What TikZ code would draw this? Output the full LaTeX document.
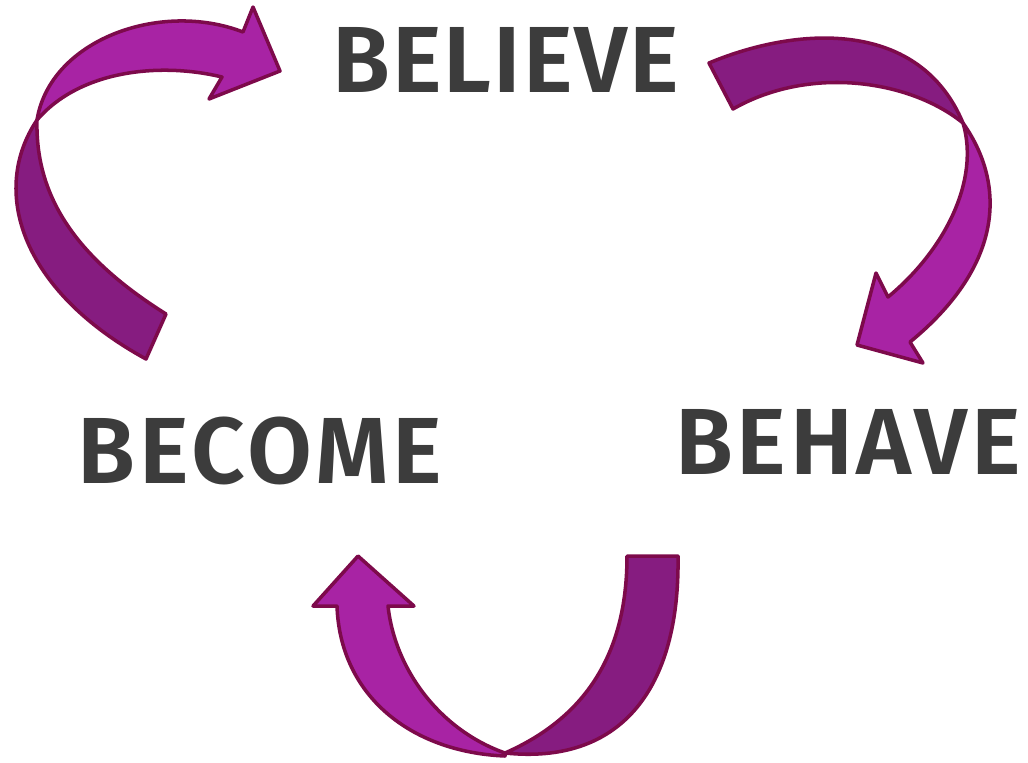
\documentclass[tikz,border=0pt]{standalone}
\usepackage{fontspec}
\setmainfont{Fira Sans}[BoldFont={Fira Sans SemiBold}]
\usepackage{tikz}

\definecolor{wordgray}{HTML}{3C3C3C}
\definecolor{bandlight}{HTML}{A823A4}
\definecolor{banddark}{HTML}{861C80}
\definecolor{bandedge}{HTML}{7D0A4B}

\tikzset{
	word/.style={inner sep=0pt,anchor=base,text=wordgray,font=\fontsize{53.5}{60}\selectfont\bfseries\addfontfeature{LetterSpace=#1}},
	word/.default=4,
	darkband/.style={fill=banddark,draw=bandedge,line width=2pt,line join=round},
	lightband/.style={fill=bandlight,draw=bandedge,line width=2pt,line join=round}
}

\begin{document}
\begin{tikzpicture}[x=0.02cm,y=-0.02cm]
	\useasboundingbox (0,0) rectangle (1028,762);

	\node[word=2] (believe) at (506, 92)     {BELIEVE};
	\node[word]   (behave)  at (848, 474)    {BEHAVE};
	\node[word]   (become)  at (260, 483)    {BECOME};

	\path[darkband] (146,359) .. controls (20,290) and (-10,190) .. (37,120)
		.. controls (35,200) and (80,260) .. (166,314) -- cycle;
	\path[lightband] (37,120) .. controls (50,40) and (160,0) .. (243,32)
		-- (253,7) -- (280,71) -- (209,99) -- (222,77)
		.. controls (160,62) and (80,70) .. (37,120) -- cycle;

	\path[darkband] (709,63) .. controls (800,25) and (920,20) .. (963,123)
		.. controls (910,80) and (810,65) .. (733,109) -- cycle;
	\path[lightband] (963,123) .. controls (1010,190) and (998,270) .. (910,342)
		-- (923,363) -- (857,345) -- (876,273) -- (888,297)
		.. controls (945,250) and (980,180) .. (963,123) -- cycle;

	\path[darkband] (627,556) .. controls (627,660) and (580,720) .. (505,753)
		.. controls (620,765) and (680,690) .. (678,556) -- cycle;
	\path[lightband] (505,753) .. controls (440,730) and (395,670) .. (388,606)
		-- (414,606) -- (358,556) -- (313,606) -- (337,606)
		.. controls (340,695) and (410,752) .. (505,756) -- cycle;
\end{tikzpicture}
\end{document}
